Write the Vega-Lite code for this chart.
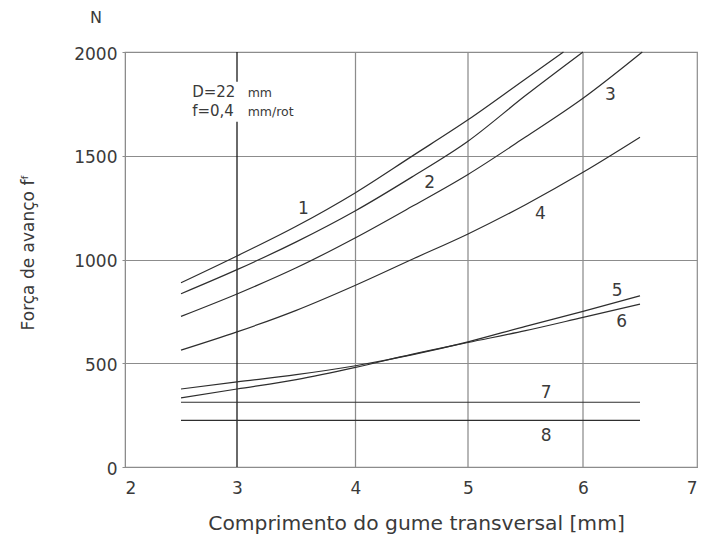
{
  "$schema": "https://vega.github.io/schema/vega-lite/v6.json",
  "width": 572,
  "height": 415,
  "autosize": "none",
  "padding": {"left": 125, "top": 52, "right": 8, "bottom": 71},
  "background": "white",
  "config": {
    "font": "DejaVu Sans",
    "view": {"stroke": "#8c8c8c", "strokeWidth": 1.2},
    "axis": {
      "gridColor": "#8c8c8c",
      "gridWidth": 1.2,
      "gridOpacity": 1,
      "domainColor": "#8c8c8c",
      "tickColor": "#8c8c8c",
      "labelColor": "#3a3a3a",
      "titleColor": "#3a3a3a",
      "labelFont": "DejaVu Sans",
      "titleFont": "DejaVu Sans",
      "labelFontSize": 17,
      "titleFontSize": 20.3,
      "titleFontWeight": "normal"
    }
  },
  "datasets": {
    "curves": [
      {"curve": "1", "x": 2.5, "y": 888}, {"curve": "1", "x": 3, "y": 1017}, {"curve": "1", "x": 3.5, "y": 1160}, {"curve": "1", "x": 4, "y": 1322}, {"curve": "1", "x": 4.5, "y": 1497}, {"curve": "1", "x": 5, "y": 1673}, {"curve": "1", "x": 5.5, "y": 1870}, {"curve": "1", "x": 5.83, "y": 2000},
      {"curve": "2", "x": 2.5, "y": 835}, {"curve": "2", "x": 3, "y": 951}, {"curve": "2", "x": 3.5, "y": 1085}, {"curve": "2", "x": 4, "y": 1235}, {"curve": "2", "x": 4.5, "y": 1397}, {"curve": "2", "x": 5, "y": 1570}, {"curve": "2", "x": 5.5, "y": 1790}, {"curve": "2", "x": 6, "y": 2000},
      {"curve": "3", "x": 2.5, "y": 726}, {"curve": "3", "x": 3, "y": 834}, {"curve": "3", "x": 3.5, "y": 960}, {"curve": "3", "x": 4, "y": 1105}, {"curve": "3", "x": 4.5, "y": 1255}, {"curve": "3", "x": 5, "y": 1410}, {"curve": "3", "x": 5.5, "y": 1590}, {"curve": "3", "x": 6, "y": 1777}, {"curve": "3", "x": 6.52, "y": 2000},
      {"curve": "4", "x": 2.5, "y": 563}, {"curve": "4", "x": 3, "y": 651}, {"curve": "4", "x": 3.5, "y": 755}, {"curve": "4", "x": 4, "y": 876}, {"curve": "4", "x": 4.5, "y": 1000}, {"curve": "4", "x": 5, "y": 1123}, {"curve": "4", "x": 5.5, "y": 1264}, {"curve": "4", "x": 6, "y": 1420}, {"curve": "4", "x": 6.5, "y": 1589},
      {"curve": "5", "x": 2.5, "y": 376}, {"curve": "5", "x": 3, "y": 410}, {"curve": "5", "x": 3.5, "y": 445}, {"curve": "5", "x": 4, "y": 488}, {"curve": "5", "x": 4.5, "y": 540}, {"curve": "5", "x": 5, "y": 603}, {"curve": "5", "x": 5.5, "y": 678}, {"curve": "5", "x": 6, "y": 750}, {"curve": "5", "x": 6.5, "y": 825},
      {"curve": "6", "x": 2.5, "y": 333}, {"curve": "6", "x": 3, "y": 376}, {"curve": "6", "x": 3.5, "y": 421}, {"curve": "6", "x": 4, "y": 480}, {"curve": "6", "x": 4.5, "y": 543}, {"curve": "6", "x": 5, "y": 600}, {"curve": "6", "x": 5.5, "y": 657}, {"curve": "6", "x": 6, "y": 721}, {"curve": "6", "x": 6.5, "y": 785},
      {"curve": "7", "x": 2.5, "y": 312}, {"curve": "7", "x": 6.5, "y": 312},
      {"curve": "8", "x": 2.5, "y": 225}, {"curve": "8", "x": 6.5, "y": 225}
    ],
    "labels": [
      {"label": "1", "x": 3.56, "y": 1243},
      {"label": "2", "x": 4.66, "y": 1371},
      {"label": "3", "x": 6.24, "y": 1793},
      {"label": "4", "x": 5.63, "y": 1218},
      {"label": "5", "x": 6.3, "y": 846},
      {"label": "6", "x": 6.34, "y": 697},
      {"label": "7", "x": 5.68, "y": 359},
      {"label": "8", "x": 5.68, "y": 147}
    ],
    "note": [
      {"text": "D=22", "x": 2.6, "y": 1807, "size": "big"},
      {"text": "f=0,4", "x": 2.6, "y": 1716, "size": "big"},
      {"text": "mm", "x": 3.09, "y": 1803, "size": "small"},
      {"text": "mm/rot", "x": 3.09, "y": 1712, "size": "small"}
    ],
    "grid": [
      {"x": 3, "y": 0, "y2": 1664, "kind": "dark"},
      {"x": 3, "y": 1857, "y2": 2000, "kind": "dark"},
      {"x": 4, "y": 0, "y2": 2000, "kind": "grey"},
      {"x": 5, "y": 0, "y2": 2000, "kind": "grey"},
      {"x": 6, "y": 0, "y2": 2000, "kind": "grey"}
    ],
    "unit": [{"text": "N", "x": 1.74, "y": 2164}]
  },
  "layer": [
    {
      "data": {"name": "grid"},
      "mark": {"type": "rule", "strokeWidth": 1.25},
      "encoding": {
        "x": {
          "field": "x", "type": "quantitative",
          "scale": {"domain": [2, 3, 4, 5, 6, 7], "range": [0, 112, 230.5, 343, 458, 572], "nice": false, "zero": false},
          "axis": {"values": [2, 3, 4, 5, 6, 7], "grid": false, "format": "d", "ticks": false, "labelPadding": 13, "title": "Comprimento do gume transversal [mm]", "titleY": 62, "titleBaseline": "alphabetic", "titleX": 291}
        },
        "y": {
          "field": "y", "type": "quantitative",
          "scale": {"domain": [0, 2000], "nice": false},
          "axis": {"values": [0, 500, 1000, 1500, 2000], "grid": true, "format": "d", "tickSize": 3, "labelPadding": 5, "labelOffset": 2, "title": "Força de avanço f\u1da0", "titleFontSize": 17, "titleX": -92, "titleY": 200, "titleAngle": 270, "titleAlign": "center", "titleBaseline": "alphabetic"}
        },
        "y2": {"field": "y2"},
        "color": {"field": "kind", "type": "nominal", "scale": {"domain": ["dark", "grey"], "range": ["#111111", "#8c8c8c"]}, "legend": null}
      }
    },
    {
      "data": {"name": "curves"},
      "mark": {"type": "line", "color": "#2e2e2e", "strokeWidth": 1.2, "interpolate": "monotone"},
      "encoding": {
        "x": {"field": "x", "type": "quantitative"},
        "y": {"field": "y", "type": "quantitative"},
        "detail": {"field": "curve"}
      }
    },
    {
      "data": {"name": "labels"},
      "mark": {"type": "text", "fontSize": 17, "color": "#3a3a3a", "font": "DejaVu Sans"},
      "encoding": {
        "x": {"field": "x", "type": "quantitative"},
        "y": {"field": "y", "type": "quantitative"},
        "text": {"field": "label"}
      }
    },
    {
      "data": {"name": "note"},
      "mark": {"type": "text", "align": "left", "baseline": "middle", "color": "#3a3a3a", "font": "DejaVu Sans"},
      "encoding": {
        "x": {"field": "x", "type": "quantitative"},
        "y": {"field": "y", "type": "quantitative"},
        "text": {"field": "text"},
        "size": {"field": "size", "type": "nominal", "scale": {"domain": ["big", "small"], "range": [15, 12.5]}, "legend": null}
      }
    },
    {
      "data": {"name": "unit"},
      "mark": {"type": "text", "fontSize": 16, "color": "#3a3a3a", "font": "DejaVu Sans"},
      "encoding": {
        "x": {"field": "x", "type": "quantitative"},
        "y": {"field": "y", "type": "quantitative"},
        "text": {"field": "text"}
      }
    }
  ]
}
